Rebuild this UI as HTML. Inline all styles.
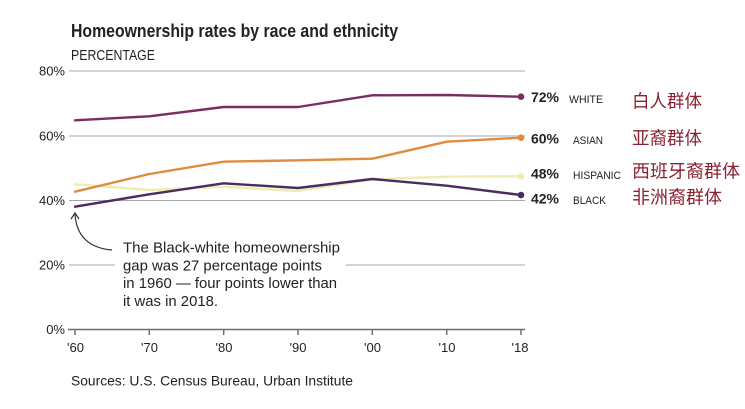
<!DOCTYPE html>
<html>
<head>
<meta charset="utf-8">
<style>
html,body{margin:0;padding:0;background:#fff;}
svg{display:block;}
text{font-family:"Liberation Sans","Noto Sans CJK SC",sans-serif;fill:#222;}
.cn{font-family:"Liberation Sans","Noto Sans CJK SC",sans-serif;fill:#8a2232;}
</style>
</head>
<body>
<svg width="745" height="409" viewBox="0 0 745 409" xmlns="http://www.w3.org/2000/svg">
  <rect width="745" height="409" fill="#fff"/>
  <!-- Title -->
  <text x="71" y="37" font-size="18" font-weight="bold" textLength="327" lengthAdjust="spacingAndGlyphs">Homeownership rates by race and ethnicity</text>
  <text x="71" y="60" font-size="15" textLength="84" lengthAdjust="spacingAndGlyphs">PERCENTAGE</text>

  <!-- Gridlines -->
  <g stroke="#a8a8a8" stroke-width="1">
    <line x1="69" y1="71" x2="525" y2="71"/>
    <line x1="69" y1="136" x2="525" y2="136"/>
    <line x1="69" y1="200.5" x2="525" y2="200.5"/>
    <line x1="69" y1="265" x2="115" y2="265"/>
    <line x1="346" y1="265" x2="525" y2="265"/>
  </g>
  <!-- Axis -->
  <g stroke="#6e6e6e" stroke-width="1.5">
    <line x1="68" y1="329.5" x2="525" y2="329.5"/>
    <line x1="75" y1="329.5" x2="75" y2="335"/>
    <line x1="149.3" y1="329.5" x2="149.3" y2="335"/>
    <line x1="223.7" y1="329.5" x2="223.7" y2="335"/>
    <line x1="298" y1="329.5" x2="298" y2="335"/>
    <line x1="372.3" y1="329.5" x2="372.3" y2="335"/>
    <line x1="446.7" y1="329.5" x2="446.7" y2="335"/>
    <line x1="521" y1="329.5" x2="521" y2="335"/>
  </g>

  <!-- Y labels -->
  <g font-size="13" text-anchor="end">
    <text x="65" y="75.5">80%</text>
    <text x="65" y="140.5">60%</text>
    <text x="65" y="205">40%</text>
    <text x="65" y="269.5">20%</text>
    <text x="65" y="334">0%</text>
  </g>
  <!-- X labels -->
  <g font-size="13" text-anchor="middle">
    <text x="75.5" y="352">'60</text>
    <text x="149.5" y="352">'70</text>
    <text x="224" y="352">'80</text>
    <text x="298" y="352">'90</text>
    <text x="372.5" y="352">'00</text>
    <text x="447" y="352">'10</text>
    <text x="520" y="352">'18</text>
  </g>

  <!-- Series -->
  <g fill="none" stroke-width="2.4" stroke-linejoin="round" stroke-linecap="round">
    <polyline stroke="#eeecb2" points="75,184.3 149.3,190 223.7,186.7 298,191 372.3,179.3 446.7,176.7 521,176.3"/>
    <polyline stroke="#e08b3e" points="75,191.7 149.3,174 223.7,161.7 298,160.3 372.3,158.7 446.7,141.7 521,137.7"/>
    <polyline stroke="#7a2e5c" points="75,120.3 149.3,116.3 223.7,107 298,107 372.3,95.3 446.7,95 521,96.7"/>
    <polyline stroke="#4b2c60" points="75,206.7 149.3,194.3 223.7,183.3 298,188 372.3,179 446.7,185.7 521,195"/>
  </g>
  <circle cx="521" cy="96.7" r="3.3" fill="#7a2e5c"/>
  <circle cx="521" cy="137.7" r="3.3" fill="#e08b3e"/>
  <circle cx="521" cy="176.3" r="3.3" fill="#eeecb2"/>
  <circle cx="521" cy="195" r="3.3" fill="#4b2c60"/>

  <!-- Right labels -->
  <g font-size="14" font-weight="bold">
    <text x="531" y="102" textLength="28" lengthAdjust="spacingAndGlyphs">72%</text>
    <text x="531" y="143.5" textLength="28" lengthAdjust="spacingAndGlyphs">60%</text>
    <text x="531" y="178.5" textLength="28" lengthAdjust="spacingAndGlyphs">48%</text>
    <text x="531" y="203.5" textLength="28" lengthAdjust="spacingAndGlyphs">42%</text>
  </g>
  <g font-size="11">
    <text x="569" y="103" textLength="34" lengthAdjust="spacingAndGlyphs">WHITE</text>
    <text x="573" y="144" textLength="30" lengthAdjust="spacingAndGlyphs">ASIAN</text>
    <text x="573" y="179" textLength="48" lengthAdjust="spacingAndGlyphs">HISPANIC</text>
    <text x="573" y="204" textLength="33" lengthAdjust="spacingAndGlyphs">BLACK</text>
  </g>
  <g font-size="18">
    <text class="cn" x="632" y="107.5" textLength="70" lengthAdjust="spacingAndGlyphs">白人群体</text>
    <text class="cn" x="632" y="144.5" textLength="70" lengthAdjust="spacingAndGlyphs">亚裔群体</text>
    <text class="cn" x="632" y="177.5" textLength="108" lengthAdjust="spacingAndGlyphs">西班牙裔群体</text>
    <text class="cn" x="632" y="203.5" textLength="90" lengthAdjust="spacingAndGlyphs">非洲裔群体</text>
  </g>

  <!-- Annotation -->
  <path d="M112,250 Q77,247 75,214" fill="none" stroke="#333" stroke-width="1.2"/>
  <path d="M71,219 L75,213 L79,219" fill="none" stroke="#333" stroke-width="1.2"/>
  <g font-size="15">
    <text x="123" y="252.5" textLength="217" lengthAdjust="spacingAndGlyphs">The Black-white homeownership</text>
    <text x="123" y="270.3" textLength="199" lengthAdjust="spacingAndGlyphs">gap was 27 percentage points</text>
    <text x="123" y="288.1" textLength="214" lengthAdjust="spacingAndGlyphs">in 1960 — four points lower than</text>
    <text x="123" y="305.9" textLength="95" lengthAdjust="spacingAndGlyphs">it was in 2018.</text>
  </g>

  <!-- Source -->
  <text x="71" y="385.5" font-size="14" textLength="282" lengthAdjust="spacingAndGlyphs">Sources: U.S. Census Bureau, Urban Institute</text>
</svg>
</body>
</html>
